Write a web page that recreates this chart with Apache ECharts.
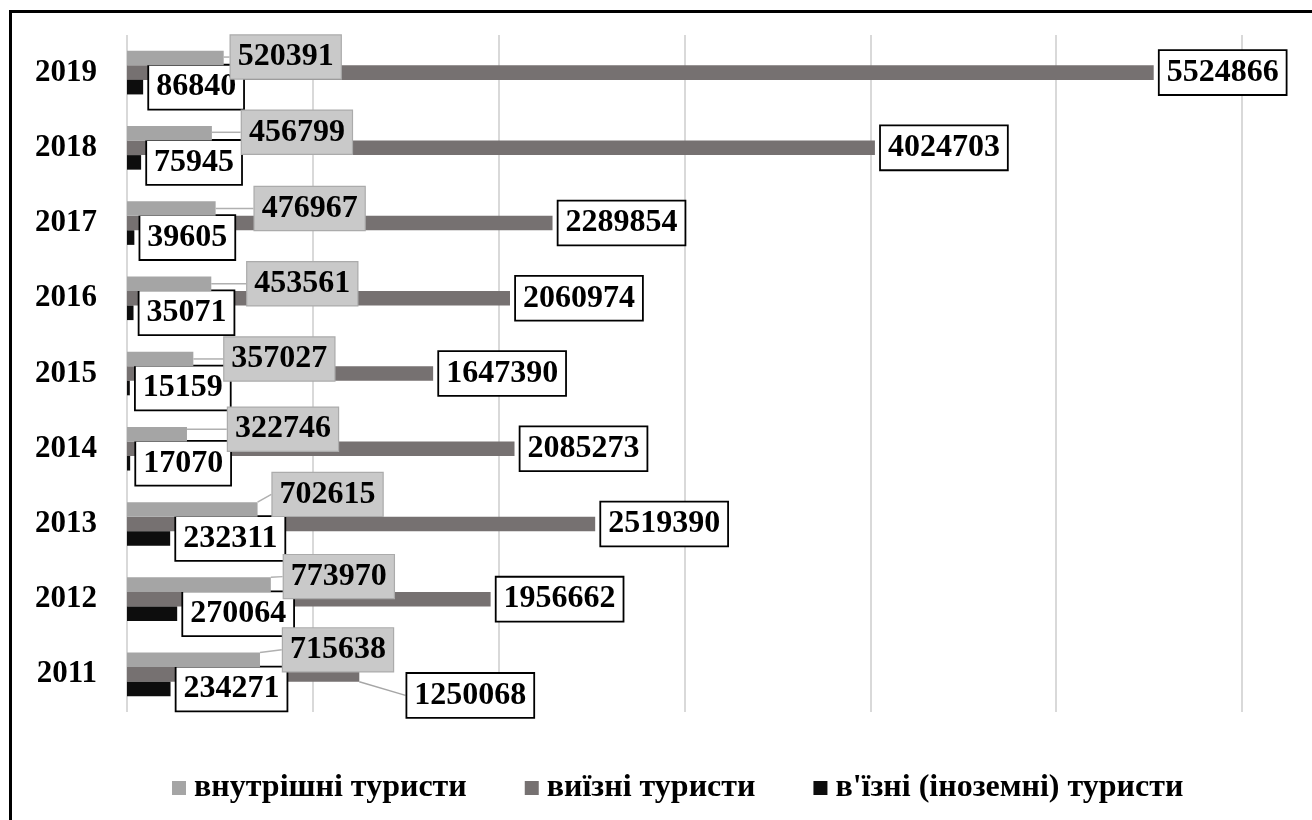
<!DOCTYPE html>
<html>
<head>
<meta charset="utf-8">
<script src="https://cdn.jsdelivr.net/npm/echarts@6/dist/echarts.min.js"></script>
<style>
  html, body { margin: 0; padding: 0; background: #fff; }
  #chart { width: 1312px; height: 820px; }
  #frame { position: absolute; left: 9px; top: 10px; width: 2000px; height: 2000px;
           border-left: 3.5px solid #000; border-top: 3.5px solid #000; pointer-events: none; }
</style>
</head>
<body>
<div id="chart"></div>
<div id="frame"></div>
<script>
const years = ['2011', '2012', '2013', '2014', '2015', '2016', '2017', '2018', '2019'];
const seriesNames = ['внутрішні туристи', 'виїзні туристи', "в'їзні (іноземні) туристи"];
const domestic = [715638, 773970, 702615, 322746, 357027, 453561, 476967, 456799, 520391];
const outbound = [1250068, 1956662, 2519390, 2085273, 1647390, 2060974, 2289854, 4024703, 5524866];
const inbound = [234271, 270064, 232311, 17070, 15159, 35071, 39605, 75945, 86840];

// label displacement (px) from default right-of-bar position
const domesticLabelShift = [[17, -10], [7, -8], [9, -15], [35, -5], [25, 0], [30, 0], [33, 0], [24, -1], [1, -1]];
const outboundLabelShift = [[42, 21], [0, 0], [0, 0], [0, 0], [0, 0], [0, 0], [0, 0], [0, 0], [0, 0]];

const FONT = '"Liberation Serif", "Times New Roman", serif';
const colors = ['#a5a5a5', '#767171', '#0d0d0d'];

const baseLabel = {
  show: true,
  position: 'right',
  distance: 6,
  fontFamily: FONT,
  fontWeight: 'bold',
  fontSize: 32,
  lineHeight: 34,
  color: '#000',
  padding: [6, 7, 3, 7]
};

const chart = echarts.init(document.getElementById('chart'), null, { renderer: 'canvas' });
chart.setOption({
  animation: false,
  backgroundColor: 'transparent',
  grid: { left: 127, right: 70, top: 35, height: 677 },
  xAxis: {
    type: 'value', min: 0, max: 6000000, interval: 1000000,
    axisLabel: { show: false }, axisLine: { show: false }, axisTick: { show: false },
    splitLine: { show: true, lineStyle: { color: '#d9d9d9', width: 2 } }
  },
  yAxis: {
    type: 'category', data: years,
    axisLine: { show: false }, axisTick: { show: false },
    axisLabel: { fontFamily: FONT, fontWeight: 'bold', fontSize: 31, color: '#000', margin: 30 }
  },
  legend: {
    data: seriesNames,
    left: 167, top: 767,
    icon: 'rect', itemWidth: 14, itemHeight: 14, itemGap: 58,
    textStyle: { fontFamily: FONT, fontWeight: 'bold', fontSize: 32, color: '#000', padding: [0, 0, 0, 3] }
  },
  series: [
    {
      name: seriesNames[0], type: 'bar', z: 3,
      data: domestic,
      itemStyle: { color: colors[0] },
      barGap: '0%', barCategoryGap: '42%',
      label: Object.assign({}, baseLabel, {
        backgroundColor: '#c9c9c9', borderColor: '#ababab', borderWidth: 1.2
      }),
      labelLine: { show: true, lineStyle: { color: '#b0b0b0', width: 1.5 } },
      labelLayout: function (p) {
        const s = domesticLabelShift[p.dataIndex];
        return { dx: s[0], dy: s[1] };
      }
    },
    {
      name: seriesNames[1], type: 'bar', z: 2,
      data: outbound.map(function (v, i) {
        return { value: v, labelLine: { show: outboundLabelShift[i][0] !== 0 } };
      }),
      itemStyle: { color: colors[1] },
      barGap: '0%', barCategoryGap: '42%',
      label: Object.assign({}, baseLabel, {
        backgroundColor: '#fff', borderColor: '#000', borderWidth: 1.8
      }),
      labelLine: { show: false, lineStyle: { color: '#a6a6a6', width: 1.5 } },
      labelLayout: function (p) {
        const s = outboundLabelShift[p.dataIndex];
        return { dx: s[0], dy: s[1] };
      }
    },
    {
      name: seriesNames[2], type: 'bar', z: 2,
      data: inbound,
      itemStyle: { color: colors[2] },
      barGap: '0%', barCategoryGap: '42%',
      label: Object.assign({}, baseLabel, {
        backgroundColor: '#fff', borderColor: '#000', borderWidth: 1.8
      })
    }
  ]
});
</script>
</body>
</html>
